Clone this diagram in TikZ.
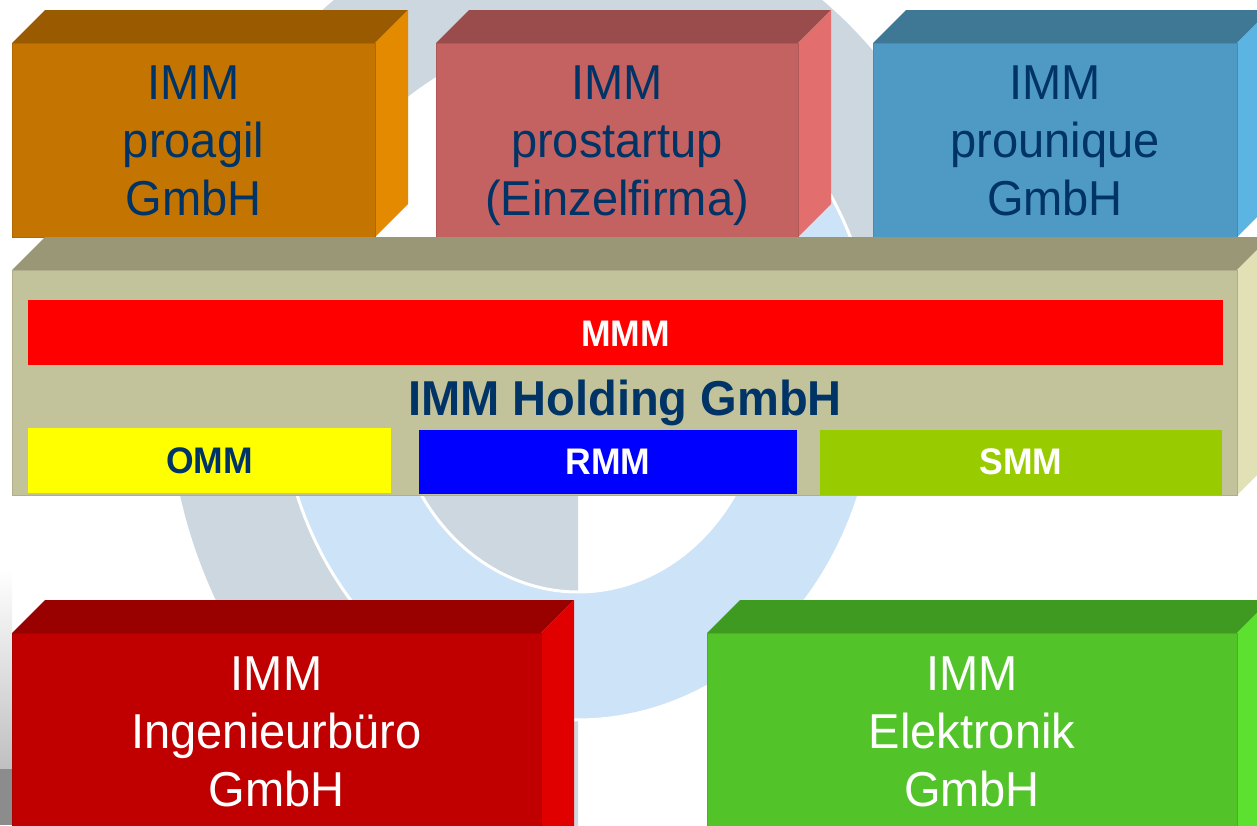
\documentclass[tikz,border=0pt]{standalone}
\usepackage{fontspec}
\setmainfont{Liberation Sans}
\newfontfamily\boxfont[FakeStretch=0.96]{Liberation Sans}
\definecolor{navy}{HTML}{003366}
\definecolor{logogrey}{HTML}{CDD7E0}
\definecolor{logoblue}{HTML}{CDE3F8}
\definecolor{orF}{HTML}{C47400}\definecolor{orT}{HTML}{9A5B00}\definecolor{orS}{HTML}{E38A00}
\definecolor{piF}{HTML}{C46262}\definecolor{piT}{HTML}{9A4B4B}\definecolor{piS}{HTML}{E26E6E}
\definecolor{blF}{HTML}{4E9AC4}\definecolor{blT}{HTML}{3E7895}\definecolor{blS}{HTML}{5BB4E2}
\definecolor{hoF}{HTML}{C3C39B}\definecolor{hoT}{HTML}{999776}\definecolor{hoS}{HTML}{E2E1B5}
\definecolor{reF}{HTML}{C00000}\definecolor{reT}{HTML}{990000}\definecolor{reS}{HTML}{E00000}
\definecolor{grF}{HTML}{52C42A}\definecolor{grT}{HTML}{3F9A22}\definecolor{grS}{HTML}{5DE130}
\definecolor{barR}{HTML}{FF0000}\definecolor{barY}{HTML}{FFFF00}
\definecolor{barB}{HTML}{0000FF}\definecolor{barG}{HTML}{99CC00}
\newcommand{\drawblock}[7]{%
  \fill[#6] (#1,#2) -- (#1+33,#2-33) -- (#3+33,#2-33) -- (#3,#2) -- cycle;
  \fill[#7] (#3,#2) -- (#3+33,#2-33) -- (#3+33,#4-33) -- (#3,#4) -- cycle;
  \filldraw[fill=#5, draw=#5!90!black, line width=0.8] (#1,#2) rectangle (#3,#4);
}
\tikzset{
  boxtext/.style={font=\boxfont\fontsize{49}{58}\selectfont, align=center, inner sep=0pt, anchor=north},
  bartext/.style={font=\boxfont\bfseries\fontsize{37}{40}\selectfont, inner sep=0pt},
  bar/.style={inner sep=0pt},
}
\begin{document}
\begin{tikzpicture}[x=1pt,y=-1pt]
\useasboundingbox (0,0) rectangle (1257,825);
\clip (0,0) rectangle (1257,825);
\fill[white] (0,0) rectangle (1257,825);
% background logo
\fill[logogrey] plot[domain=90:360, samples=160] ({578+411*cos(\x)},{378+470*sin(\x)})
  -- plot[domain=360:90, samples=160] ({578+299*cos(\x)},{378+342*sin(\x)}) -- cycle;
\fill[logogrey] plot[domain=90:270, samples=100] ({578+187*cos(\x)},{378+214*sin(\x)}) -- cycle;
\filldraw[fill=logoblue, draw=white, line width=3]
  plot[domain=-80:200, samples=160] ({578+299*cos(\x)},{378+342*sin(\x)})
  -- plot[domain=200:-80, samples=160] ({578+187*cos(\x)},{378+214*sin(\x)}) -- cycle;
% left-edge shadow
\shade[top color=white, bottom color=black!25] (0,570) rectangle (12,770);
\fill[black!45] (0,769) rectangle (12,825);
% top row
\drawblock{12}{43}{375}{237}{orF}{orT}{orS}
\drawblock{436}{43}{798}{237}{piF}{piT}{piS}
\drawblock{873}{43}{1237}{237}{blF}{blT}{blS}
\node[boxtext, text=navy] (proagil) at (193.5,66) {IMM\\proagil\\GmbH};
\node[boxtext, text=navy] (prostartup) at (617,66) {IMM\\prostartup\\(Einzelfirma)};
\node[boxtext, text=navy] (prounique) at (1055,66) {IMM\\prounique\\GmbH};
% holding
\drawblock{12}{270}{1237}{495}{hoF}{hoT}{hoS}
\fill[barR] (28,300) rectangle (1223,365);
\node[bartext, text=white] (mmm) at (625.5,334) {MMM};
\node[font=\boxfont\bfseries\fontsize{49}{52}\selectfont, text=navy, inner sep=0pt, anchor=base] (holding) at (625,415) {IMM Holding GmbH};
\fill[barY] (28,428) rectangle (391,493);
\fill[barB] (419,430) rectangle (797,494);
\fill[barG] (820,430) rectangle (1222,495);
\node[bartext, text=navy] (omm) at (209.5,461) {OMM};
\node[bartext, text=white] (rmm) at (608,462) {RMM};
\node[bartext, text=white] (smm) at (1021,462) {SMM};
% bottom row
\drawblock{12}{633}{541}{870}{reF}{reT}{reS}
\drawblock{707}{633}{1237}{870}{grF}{grT}{grS}
\node[boxtext, text=white] (ingbuero) at (276.5,657) {IMM\\Ingenieurbüro\\GmbH};
\node[boxtext, text=white] (elektronik) at (972,657) {IMM\\Elektronik\\GmbH};
\end{tikzpicture}
\end{document}
